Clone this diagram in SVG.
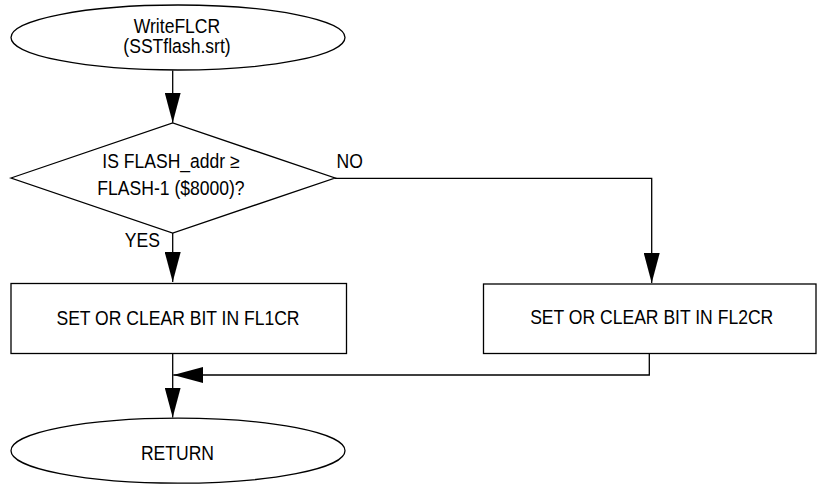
<svg xmlns="http://www.w3.org/2000/svg" width="817" height="485" viewBox="0 0 817 485">
<style>
.shape{fill:#fff;stroke:#000;stroke-width:1.3}
.conn{fill:none;stroke:#000;stroke-width:1.3}
text{font-family:"Liberation Sans",Arial,sans-serif;font-size:19.5px;fill:#000}
.c{text-anchor:middle}
</style>
<defs>
<marker id="ah" markerUnits="userSpaceOnUse" markerWidth="30" markerHeight="16" refX="30" refY="8" orient="auto">
<path d="M0,0 L30,8 L0,16 Z" fill="#000"/>
</marker>
</defs>
<rect width="817" height="485" fill="#fff"/>
<g id="connectors">
<path class="conn" d="M172.7,70.5 V122.7" marker-end="url(#ah)"/>
<path class="conn" d="M172.7,233 V282" marker-end="url(#ah)"/>
<path class="conn" d="M335,178.3 H651.7 V283" marker-end="url(#ah)"/>
<path class="conn" d="M172.7,353.5 V417.5" marker-end="url(#ah)"/>
<path class="conn" d="M649.3,353.5 V375 H173.3" marker-end="url(#ah)"/>
<text x="160" y="247" text-anchor="end" transform="matrix(0.9,0,0,1,16,0)">YES</text>
<text x="336.5" y="168" transform="matrix(0.9,0,0,1,33.65,0)">NO</text>
</g>
<g id="start">
<ellipse class="shape" cx="178" cy="37.5" rx="167" ry="32.5"/>
<text class="c" x="177" y="33" transform="matrix(0.9,0,0,1,17.7,0)">WriteFLCR</text>
<text class="c" x="177" y="53" transform="matrix(0.9,0,0,1,17.7,0)">(SSTflash.srt)</text>
</g>
<g id="decision">
<path class="shape" d="M11,178 L172.7,123 L335,178 L172.7,233 Z"/>
<text class="c" x="171" y="168" transform="matrix(0.9,0,0,1,17.1,0)">IS FLASH_addr ≥</text>
<text class="c" x="171" y="195" transform="matrix(0.9,0,0,1,17.1,0)">FLASH-1 ($8000)?</text>
</g>
<g id="fl1cr">
<rect class="shape" x="11" y="283.5" width="335.5" height="70"/>
<text class="c" x="178" y="325" transform="matrix(0.9,0,0,1,17.8,0)">SET OR CLEAR BIT IN FL1CR</text>
</g>
<g id="fl2cr">
<rect class="shape" x="483.5" y="284" width="332.5" height="69.5"/>
<text class="c" x="651.7" y="324" transform="matrix(0.9,0,0,1,65.17,0)">SET OR CLEAR BIT IN FL2CR</text>
</g>
<g id="return">
<ellipse class="shape" cx="178" cy="450.7" rx="167" ry="32.5"/>
<text class="c" x="177.5" y="460" transform="matrix(0.9,0,0,1,17.75,0)">RETURN</text>
</g>
</svg>
